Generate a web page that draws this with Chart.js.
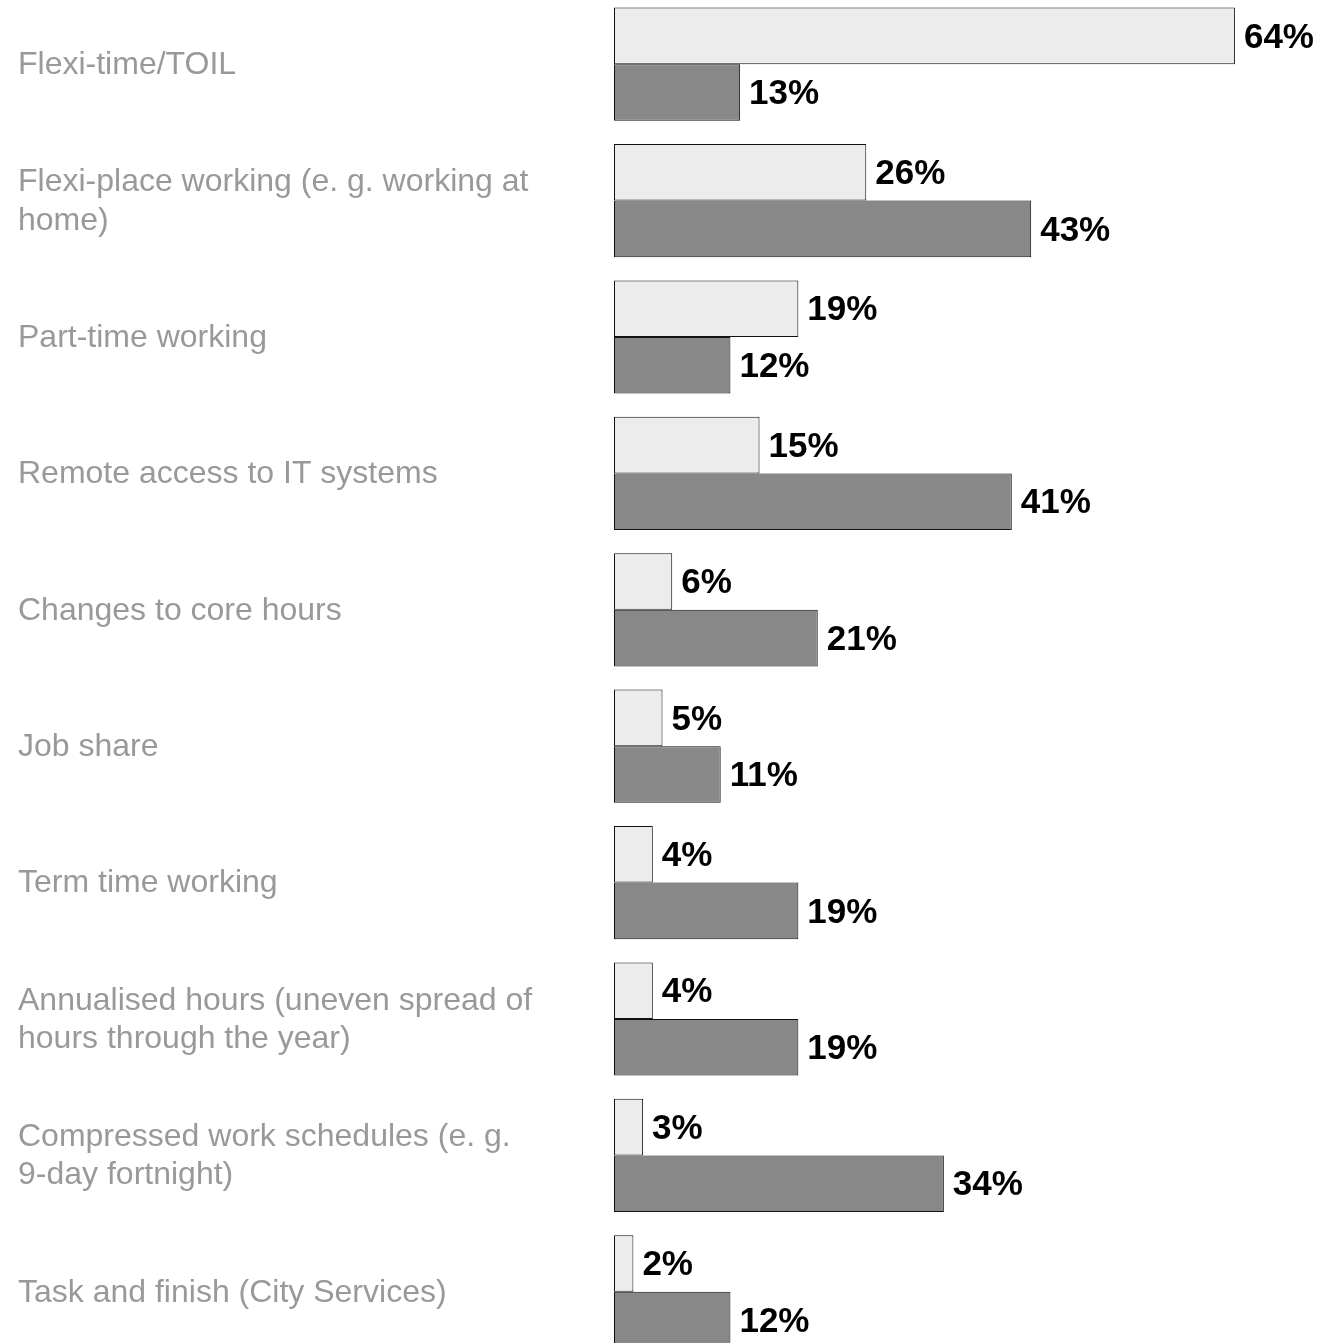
<!DOCTYPE html>
<html>
<head>
<meta charset="utf-8">
<script src="https://cdn.jsdelivr.net/npm/chart.js@4"></script>
<style>
  html, body { margin: 0; padding: 0; background: #fff; overflow: hidden; }
  body { width: 1330px; height: 1343px; position: relative; }
  #wrap { position: absolute; left: 0; top: -4px; width: 1330px; height: 1364px; }
</style>
</head>
<body>
<div id="wrap"><canvas id="flexChart"></canvas></div>
<script>
// Categories (wrapped as in the picture)
const categories = [
  "Flexi-time/TOIL",
  ["Flexi-place working (e. g. working at", "home)"],
  "Part-time working",
  "Remote access to IT systems",
  "Changes to core hours",
  "Job share",
  "Term time working",
  ["Annualised hours (uneven spread of", "hours through the year)"],
  ["Compressed work schedules (e. g.", "9-day fortnight)"],
  "Task and finish (City Services)",
];

// Series values (%)
const lightValues = [64, 26, 19, 15, 6, 5, 4, 4, 3, 2];
const darkValues = [13, 43, 12, 41, 21, 11, 19, 19, 34, 12];

// Draw "nn%" right of each bar
const valueLabels = {
  id: "valueLabels",
  afterDatasetsDraw(chart) {
    const ctx = chart.ctx;
    ctx.save();
    ctx.font = "bold 35px 'Liberation Sans', Arial, sans-serif";
    ctx.fillStyle = "#000";
    ctx.textAlign = "left";
    ctx.textBaseline = "middle";
    chart.data.datasets.forEach((ds, i) => {
      chart.getDatasetMeta(i).data.forEach((bar, j) => {
        ctx.fillText(ds.data[j] + "%", bar.x + 9, bar.y + 2);
      });
    });
    ctx.restore();
  },
};

const ctx = document.getElementById("flexChart").getContext("2d");
new Chart(ctx, {
  type: "bar",
  data: {
    labels: categories,
    datasets: [
      {
        label: "Series 1",
        data: lightValues,
        backgroundColor: "#ececec",
        borderColor: "#111111",
        borderWidth: 1,
        borderSkipped: false,
      },
      {
        label: "Series 2",
        data: darkValues,
        backgroundColor: "#888888",
        borderColor: "#111111",
        borderWidth: 1,
        borderSkipped: false,
      },
    ],
  },
  options: {
    indexAxis: "y",
    responsive: true,
    maintainAspectRatio: false,
    animation: false,
    layout: { padding: { left: 18, right: 0, top: 0, bottom: 0 } },
    datasets: {
      bar: { categoryPercentage: 0.83, barPercentage: 1 },
    },
    scales: {
      x: {
        display: false,
        min: 0,
        max: 73.8,
      },
      y: {
        afterFit: (scale) => {
          scale.width = 596;
          // no extra room above/below for the labels
          scale.paddingTop = 0;
          scale.paddingBottom = 0;
        },
        grid: { display: false },
        border: { display: false },
        ticks: {
          crossAlign: "far",
          labelOffset: 1,
          color: "#999999",
          font: { family: "'Liberation Sans', Arial, sans-serif", size: 32, lineHeight: 1.2 },
        },
      },
    },
    plugins: {
      legend: { display: false },
      tooltip: { enabled: false },
    },
  },
  plugins: [valueLabels],
});
</script>
</body>
</html>
